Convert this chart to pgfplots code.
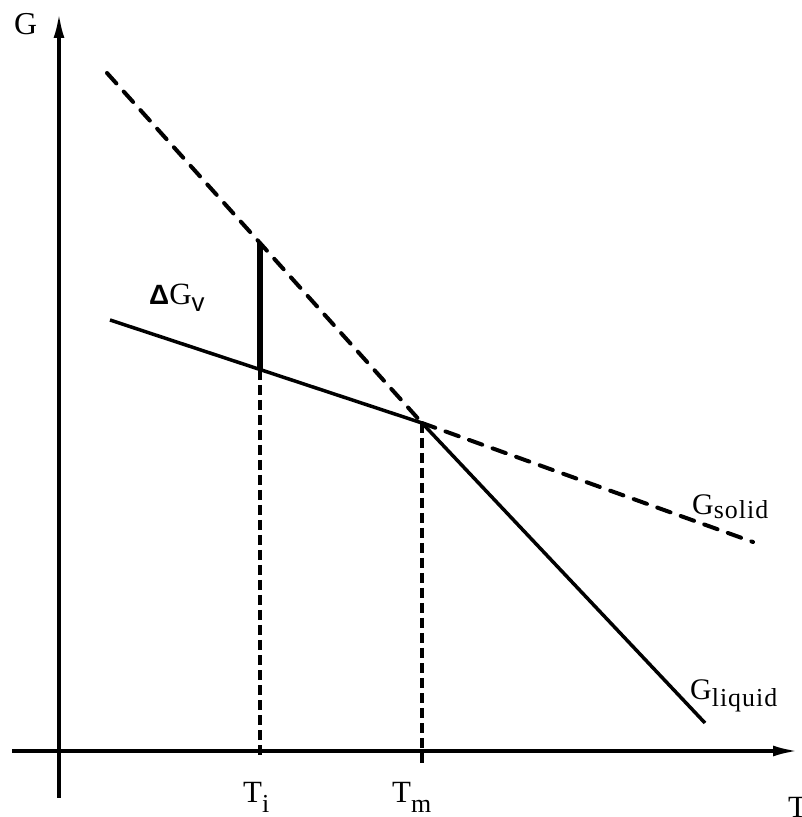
\documentclass[border=0pt]{standalone}
\usepackage{pgfplots}
\pgfplotsset{compat=1.18}
\usepackage{fontspec}
\setmainfont{Liberation Serif}
\newfontfamily\sansbf{Liberation Sans}
\usetikzlibrary{arrows.meta}
\newcommand{\lab}[4]{{\fontsize{#3}{#3}\selectfont #1}{\fontsize{26}{26}\selectfont\addfontfeature{LetterSpace=4}\raisebox{-#4bp}{#2}}}
\begin{document}
\begin{tikzpicture}
\begin{axis}[
  x=1bp, y=1bp,
  xmin=-47, xmax=739, ymin=-47, ymax=738,
  axis lines=middle,
  axis line style={line width=3.5bp, -{Latex[length=25bp,width=11bp]}},
  xtick=\empty, ytick=\empty,
  clip=false,
]
\useasboundingbox (axis cs:-59,-66) rectangle (axis cs:743,751);
% steep line (liquid): dashed above Tm, solid below
\addplot[black, line width=4bp, dash pattern=on 14bp off 11bp, line cap=round] coordinates {(48,678) (363,328)};
\addplot[black, line width=3.5bp] coordinates {(363,328) (646,28)};
% shallow line (solid): solid left of Tm, dashed right
\addplot[black, line width=3.5bp] coordinates {(51,431) (363,328)};
\addplot[black, line width=4bp, dash pattern=on 14bp off 11bp, line cap=round] coordinates {(363,328) (694,209)};
% Delta G_v bar
\addplot[black, line width=6bp] coordinates {(201,381) (201,508)};
% dotted verticals
\addplot[black, line width=3.4bp, dash pattern=on 10bp off 5bp] coordinates {(201,381) (201,-4)};
\addplot[black, line width=3.4bp, dash pattern=on 10bp off 5bp] coordinates {(363,328) (363,-14)};
% labels
\node[anchor=base west, inner sep=0pt, font=\fontsize{32}{32}\selectfont] at (axis cs:-45,716) {G};
\node[anchor=base west, inner sep=0pt, font=\fontsize{31}{31}\selectfont] at (axis cs:729,-66) {T};
\node[anchor=base west, inner sep=0pt] at (axis cs:184,-52) {\lab{T}{i}{31}{10}};
\node[anchor=base west, inner sep=0pt] at (axis cs:333,-52) {\lab{T}{m}{31}{10}};
\node[anchor=base west, inner sep=0pt] at (axis cs:90,446) {{\sansbf\bfseries\fontsize{28}{28}\selectfont Δ}{\fontsize{31}{31}\selectfont G}{\sansbf\fontsize{26}{26}\selectfont\raisebox{-7bp}{v}}};
\node[anchor=base west, inner sep=0pt] at (axis cs:633,236) {\lab{G}{solid}{30}{4}};
\node[anchor=base west, inner sep=0pt] at (axis cs:631,51) {\lab{G}{liquid}{30}{7}};
\end{axis}
\end{tikzpicture}
\end{document}
